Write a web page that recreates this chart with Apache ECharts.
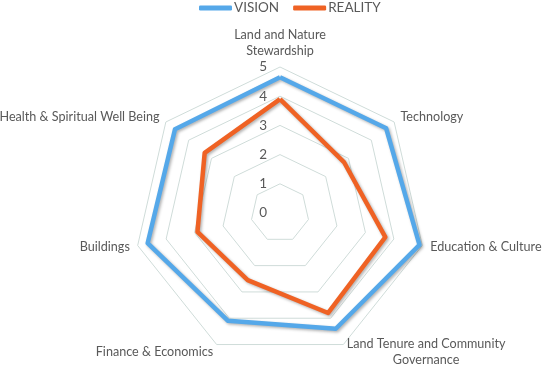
<!DOCTYPE html>
<html>
<head>
<meta charset="utf-8">
<script src="https://cdn.jsdelivr.net/npm/echarts@6/dist/echarts.min.js"></script>
<style>html,body{margin:0;padding:0;background:#fff;}#c{width:542px;height:367px;}</style>
</head>
<body>
<div id="c"></div>
<script>
// Categories, clockwise from the top
const categories = [
  'Land and Nature Stewardship',
  'Technology',
  'Education & Culture',
  'Land Tenure and Community Governance',
  'Finance & Economics',
  'Buildings',
  'Health & Spiritual Well Being'
];
const visionValues  = [4.65, 4.65, 4.9, 4.4, 4.1, 4.65, 4.6];
const realityValues = [3.9, 2.8, 3.7, 3.8, 2.55, 2.9, 3.3];
const seriesNames = ['VISION', 'REALITY'];
const axisMin = 0, axisMax = 5;

const wrapped = {
  'Land and Nature Stewardship': ['Land and Nature', 'Stewardship'],
  'Land Tenure and Community Governance': ['Land Tenure and Community', 'Governance']
};

// ECharts places indicators counter-clockwise; reorder so the picture runs clockwise
const order = [0].concat(categories.map((_, i) => i).slice(1).reverse());
const ind = order.map((i, k) => {
  const o = { name: categories[i], min: axisMin, max: axisMax };
  if (k === 0) o.axisLabel = { show: true };
  return o;
});

const chart = echarts.init(document.getElementById('c'));
const font = 'Lato, "Open Sans", sans-serif';
chart.setOption({
  animation: false,
  legend: {
    data: seriesNames,
    left: 199, top: 1, padding: 0,
    itemWidth: 33, itemHeight: 5, itemGap: 14,
    icon: 'roundRect',
    textStyle: { color: '#595959', fontSize: 13.5, fontFamily: font, padding: [0,0,0,-3] }
  },
  radar: {
    center: [280, 213],
    radius: 146,
    startAngle: 90,
    shape: 'polygon',
    splitNumber: 5,
    nameGap: 8,
    indicator: ind,
    axisName: {
      color: '#595959', fontSize: 12.6, fontFamily: font, lineHeight: 16,
      formatter: function (name) {
        const w = wrapped[name];
        if (w) return w.map(s => '{c|' + s + '}').join('\n');
        return name;
      },
      rich: { c: { align: 'center', color: '#595959', fontSize: 12.6, fontFamily: font, lineHeight: 16 } }
    },
    axisLine: { show: false },
    axisTick: { show: false },
    axisLabel: { show: false, color: '#595959', fontSize: 13.5, fontFamily: font, margin: 13 },
    splitArea: { show: false },
    splitLine: { lineStyle: { color: '#CFDCD9', width: 1 } }
  },
  series: [{
    type: 'radar',
    symbol: 'none',
    data: [
      { name: seriesNames[0], value: order.map(i => visionValues[i]),
        lineStyle: { color: '#55A8E9', width: 4.5, shadowColor: 'rgba(0,0,0,0.3)', shadowBlur: 3, shadowOffsetX: 1.5, shadowOffsetY: 1.5 },
        itemStyle: { color: '#55A8E9' } },
      { name: seriesNames[1], value: order.map(i => realityValues[i]),
        lineStyle: { color: '#EF6224', width: 4.5, shadowColor: 'rgba(0,0,0,0.3)', shadowBlur: 3, shadowOffsetX: 1.5, shadowOffsetY: 1.5 },
        itemStyle: { color: '#EF6224' } }
    ]
  }]
});
</script>
</body>
</html>
